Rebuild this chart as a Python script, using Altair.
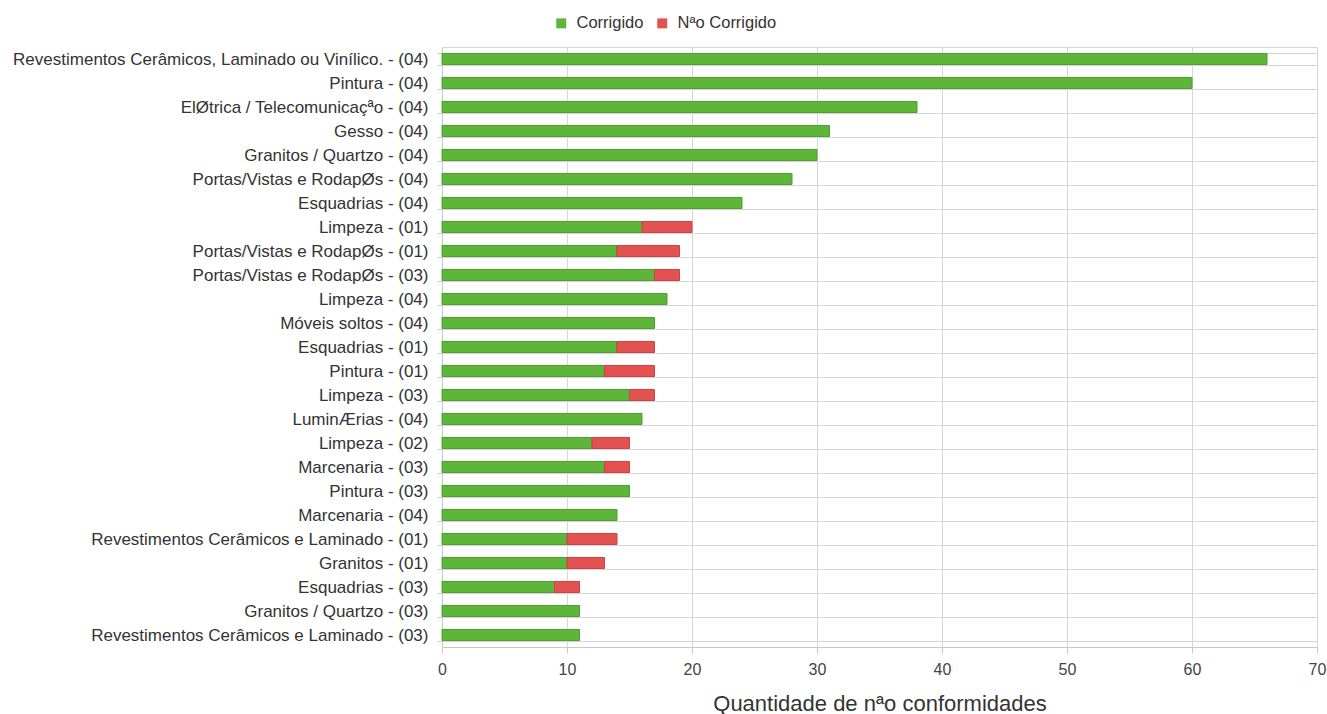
import altair as alt
import pandas as pd

# Categories, top to bottom
categorias = [
    "Revestimentos Cerâmicos, Laminado ou Vinílico. - (04)",
    "Pintura - (04)",
    "ElØtrica / Telecomunicaçªo - (04)",
    "Gesso - (04)",
    "Granitos / Quartzo - (04)",
    "Portas/Vistas e RodapØs - (04)",
    "Esquadrias  - (04)",
    "Limpeza - (01)",
    "Portas/Vistas e RodapØs - (01)",
    "Portas/Vistas e RodapØs - (03)",
    "Limpeza - (04)",
    "Móveis soltos - (04)",
    "Esquadrias  - (01)",
    "Pintura - (01)",
    "Limpeza - (03)",
    "LuminÆrias - (04)",
    "Limpeza - (02)",
    "Marcenaria - (03)",
    "Pintura - (03)",
    "Marcenaria - (04)",
    "Revestimentos Cerâmicos e Laminado - (01)",
    "Granitos - (01)",
    "Esquadrias  - (03)",
    "Granitos / Quartzo - (03)",
    "Revestimentos Cerâmicos e Laminado - (03)",
]
corrigido = [66, 60, 38, 31, 30, 28, 24, 16, 14, 17, 18, 17, 14, 13, 15, 16,
             12, 13, 15, 14, 10, 10, 9, 11, 11]
nao_corrigido = [0, 0, 0, 0, 0, 0, 0, 4, 5, 2, 0, 0, 3, 4, 2, 0,
                 3, 2, 0, 0, 4, 3, 2, 0, 0]

series = ["Corrigido", "Nªo Corrigido"]
cores = ["#5db53a", "#e35150"]
bordas = ["#4f9e31", "#c94444"]
x_ticks = [0, 10, 20, 30, 40, 50, 60, 70]

linhas = []
for cat, a, b in zip(categorias, corrigido, nao_corrigido):
    for ordem, (serie, valor) in enumerate(zip(series, [a, b])):
        if valor > 0:
            linhas.append({"categoria": cat, "serie": serie, "valor": valor, "ordem": ordem})
df = pd.DataFrame(linhas)

FONT = "Liberation Sans"
GRID = "#d6d6d6"

chart = (
    alt.Chart(df)
    .mark_bar(strokeWidth=1)
    .encode(
        y=alt.Y(
            "categoria:N",
            sort=categorias,
            scale=alt.Scale(paddingInner=0.54, paddingOuter=0.27),
            axis=alt.Axis(
                title=None,
                tickBand="extent",
                grid=True,
                gridColor=GRID,
                domainColor="#c8c8c8",
                tickColor="#c8c8c8",
                tickSize=5,
                labelFont=FONT,
                labelFontSize=17,
                labelColor="#333333",
                labelPadding=9,
                labelLimit=0,
            ),
        ),
        x=alt.X(
            "valor:Q",
            stack="zero",
            scale=alt.Scale(domain=[0, 70], nice=False),
            axis=alt.Axis(
                values=x_ticks,
                format="d",
                title="Quantidade de nªo conformidades",
                titleFont=FONT,
                titleFontSize=22,
                titleFontWeight="normal",
                titleColor="#333333",
                titlePadding=16,
                grid=True,
                gridColor=GRID,
                domainColor="#c8c8c8",
                tickColor="#c8c8c8",
                tickSize=6,
                labelFlush=False,
                labelFont=FONT,
                labelFontSize=16,
                labelColor="#444444",
                labelPadding=8,
            ),
        ),
        color=alt.Color(
            "serie:N",
            scale=alt.Scale(domain=series, range=cores),
            legend=alt.Legend(
                orient="none",
                legendX=111,
                legendY=-32,
                direction="horizontal",
                title=None,
                symbolType="square",
                symbolSize=100,
                symbolStrokeWidth=0,
                labelFont=FONT,
                labelFontSize=16.5,
                labelColor="#333333",
                labelOffset=7,
                columnPadding=10,
            ),
        ),
        stroke=alt.Stroke(
            "serie:N",
            scale=alt.Scale(domain=series, range=bordas),
            legend=None,
        ),
        order=alt.Order("ordem:Q"),
    )
    .properties(
        width=875,
        height=600,
        autosize=alt.AutoSizeParams(type="none"),
        padding={"left": 442, "top": 47, "right": 10, "bottom": 67},
    )
    .configure_view(stroke=GRID)
)

chart.save("out.html", embed_options={"renderer": "svg", "actions": False})
